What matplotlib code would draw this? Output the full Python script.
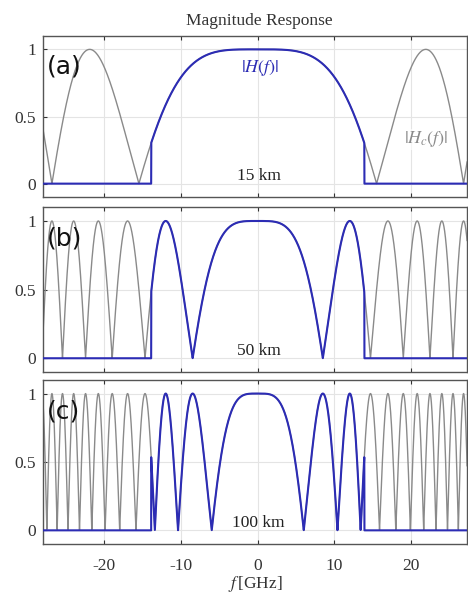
import numpy as np
import matplotlib
matplotlib.use("Agg")
import matplotlib.pyplot as plt

# ---- data ----
distances_km = [15, 50, 100]
panel_labels = ["(a)", "(b)", "(c)"]
dist_labels = ["15 km", "50 km", "100 km"]
# dispersion phase coefficient (rad / (GHz^2 km)), from zero positions: 15 km -> 15.5 GHz
phase_coef = 4.36e-4
cutoff_ghz = 13.9
f_range = [-28.0, 28.0]
x_ticks = [-20, -10, 0, 10, 20]
y_ticks = [0, 0.5, 1]
y_tick_labels = ["0", "0.5", "1"]

plt.rcParams['font.family'] = ['Liberation Serif', 'DejaVu Serif']
plt.rcParams['mathtext.fontset'] = 'stix'
plt.rcParams['axes.unicode_minus'] = False

BLUE = '#2c2cb4'
GRAY = '#8a8a8a'

fig = plt.figure(figsize=(4.68, 5.99), dpi=100)
left, width = 0.092, 0.906
boxes = [(0.671, 0.269), (0.379, 0.275), (0.0918, 0.274)]

f = np.linspace(f_range[0], f_range[1], 8001)
for i, L in enumerate(distances_km):
    b, h = boxes[i]
    ax = fig.add_axes([left, b, width, h])
    hc = np.abs(np.cos(phase_coef * L * f ** 2))
    hf = np.where(np.abs(f) <= cutoff_ghz, hc, 0.0)
    ax.plot(f, hc, color=GRAY, lw=1.0, zorder=2)
    ax.plot(f, hf, color=BLUE, lw=1.5, zorder=3)
    ax.set_xlim(-28.0, 27.3)
    ax.set_ylim(-0.1, 1.1)
    ax.set_xticks(x_ticks)
    ax.set_yticks(y_ticks)
    ax.set_yticklabels(y_tick_labels)
    ax.grid(True, color='#e4e4e4', lw=0.8, zorder=0)
    ax.tick_params(direction='in', top=True, right=False, length=3,
                   labelsize=12.5, colors='#333333')
    ax.tick_params(axis='y', pad=5)
    ax.tick_params(axis='x', pad=10)
    for s in ax.spines.values():
        s.set_color('#555555')
        s.set_linewidth(1.0)
    if i < 2:
        ax.set_xticklabels([])
    ax.text(-27.5, 0.87, panel_labels[i], family=['DejaVu Sans'], fontsize=18,
            ha='left', va='center', color='#111111', zorder=5)
    ax.text(0.1, -0.005, dist_labels[i], fontsize=12.5, ha='center', va='bottom',
            color='#222222', zorder=5)
    if i == 0:
        ax.set_title("Magnitude Response", fontsize=12.5, color='#333333', pad=8,
                     x=0.51)
        ax.text(0.3, 0.86, r'$|H(f)|$', fontsize=13, color=BLUE, ha='center',
                va='center', zorder=5)
        ax.text(22.0, 0.33, r'$|H_c(f)|$', fontsize=13, color=GRAY, ha='center',
                va='center', zorder=5,
                bbox=dict(facecolor='white', edgecolor='none', pad=0.5, alpha=0.6))
    if i == 2:
        ax.set_xlabel(r'$f\,$[GHz]', fontsize=12.5, color='#333333', labelpad=0)

fig.savefig("out.png", dpi=100)
